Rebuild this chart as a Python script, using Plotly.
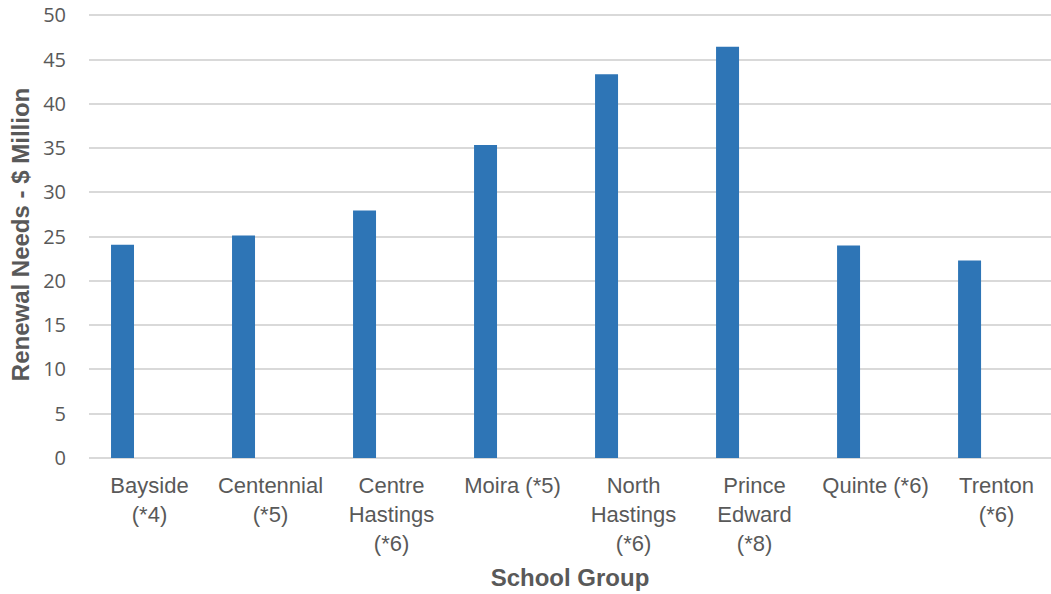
import plotly.graph_objects as go

categories = ["Bayside<br>(*4)", "Centennial<br>(*5)", "Centre<br>Hastings<br>(*6)", "Moira (*5)",
              "North<br>Hastings<br>(*6)", "Prince<br>Edward<br>(*8)", "Quinte (*6)", "Trenton<br>(*6)"]
renewal_needs = [24.1, 25.15, 27.95, 35.35, 43.35, 46.45, 24.0, 22.3]
y_ticks = [0, 5, 10, 15, 20, 25, 30, 35, 40, 45, 50]

grey = "#595959"

fig = go.Figure()
fig.add_trace(go.Bar(
    x=list(range(len(categories))),
    y=renewal_needs,
    marker=dict(color="#2E75B6", line=dict(width=0)),
    width=0.19,
    offset=-0.318,
    hoverinfo="y",
))

fig.update_layout(
    width=1051, height=594,
    margin=dict(l=89, r=0, t=11, b=136),
    paper_bgcolor="white", plot_bgcolor="white",
    showlegend=False,
    xaxis=dict(
        automargin=False,
        tickmode="array",
        tickvals=list(range(len(categories))),
        ticktext=categories,
        range=[-0.5, 7.45],
        tickangle=0,
        tickfont=dict(family="Liberation Sans, Arial", size=22, color=grey),
        showgrid=False, zeroline=False, showline=False,
        ticks="outside", ticklen=8, tickcolor="rgba(0,0,0,0)",
        title=dict(text="<b>School Group</b>",
                   font=dict(family="Liberation Sans, Arial", size=24, color=grey),
                   standoff=14),
    ),
    yaxis=dict(
        automargin=False,
        range=[0, 50.5],
        tickmode="array",
        tickvals=y_ticks,
        tickfont=dict(family="Open Sans", size=20, color=grey),
        showgrid=True, gridcolor="#d9d9d9", gridwidth=1.5,
        zeroline=True, zerolinecolor="#d9d9d9", zerolinewidth=1.5,
        showline=False,
        ticks="outside", ticklen=18, tickcolor="rgba(0,0,0,0)",
        title=dict(text="<b>Renewal Needs - $ Million</b>",
                   font=dict(family="Liberation Sans, Arial", size=24, color=grey),
                   standoff=6),
    ),
)

fig.write_html("out.html", config={"displayModeBar": False},
               post_script="document.body.style.margin='0';")
